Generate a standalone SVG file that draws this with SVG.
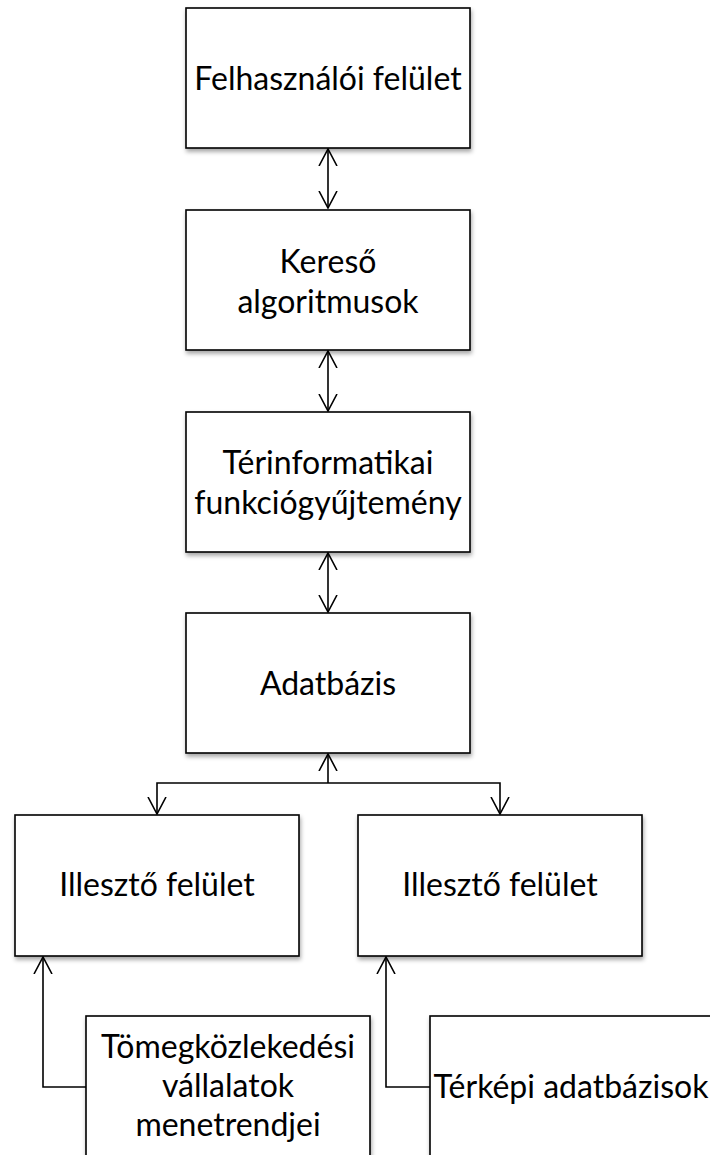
<svg xmlns="http://www.w3.org/2000/svg" width="710" height="1155" viewBox="0 0 710 1155">
<style>
.box{fill:#fff;stroke:#000;stroke-width:1.6;filter:url(#sh)}
.lbl{font-family:Lato,"Open Sans",sans-serif;font-size:32px;fill:#000;text-anchor:middle}
.con{fill:none;stroke:#000;stroke-width:1.6}
</style>
<defs>
<filter id="sh" x="-10%" y="-10%" width="120%" height="130%">
<feDropShadow dx="1" dy="3" stdDeviation="2" flood-color="#000" flood-opacity="0.35"/>
</filter>
<marker id="ah" viewBox="0 0 18 20" refX="17" refY="10" markerWidth="18" markerHeight="20" markerUnits="userSpaceOnUse" orient="auto-start-reverse">
<path d="M0,1 L17,10 L0,19" fill="none" stroke="#000" stroke-width="1.6"/>
</marker>
</defs>
<g id="connectors">
<line class="con" x1="328" y1="149" x2="328" y2="208" marker-start="url(#ah)" marker-end="url(#ah)"/>
<line class="con" x1="328" y1="351" x2="328" y2="411" marker-start="url(#ah)" marker-end="url(#ah)"/>
<line class="con" x1="328" y1="553" x2="328" y2="612" marker-start="url(#ah)" marker-end="url(#ah)"/>
<line class="con" x1="328" y1="783" x2="328" y2="754" marker-end="url(#ah)"/>
<polyline class="con" points="157,814 157,783 500,783 500,814" marker-start="url(#ah)" marker-end="url(#ah)"/>
<polyline class="con" points="86,1087 43,1087 43,957" marker-end="url(#ah)"/>
<polyline class="con" points="430,1087 386,1087 386,957" marker-end="url(#ah)"/>
</g>
<g id="n1"><rect class="box" x="186" y="8" width="284" height="140"/><text class="lbl" x="328" y="90">Felhasználói felület</text></g>
<g id="n2"><rect class="box" x="186" y="210" width="284" height="140"/><text class="lbl" x="328" y="273">Kereső</text><text class="lbl" x="328" y="313">algoritmusok</text></g>
<g id="n3"><rect class="box" x="186" y="412" width="284" height="140"/><text class="lbl" x="328" y="474">Térinformatikai</text><text class="lbl" x="328" y="514">funkciógyűjtemény</text></g>
<g id="n4"><rect class="box" x="186" y="613" width="284" height="140"/><text class="lbl" x="328" y="695">Adatbázis</text></g>
<g id="n5"><rect class="box" x="15" y="815" width="284" height="141"/><text class="lbl" x="157" y="896">Illesztő felület</text></g>
<g id="n6"><rect class="box" x="358" y="815" width="284" height="141"/><text class="lbl" x="500" y="896">Illesztő felület</text></g>
<g id="n7"><rect class="box" x="86" y="1016" width="284" height="160"/><text class="lbl" x="228" y="1058">Tömegközlekedési</text><text class="lbl" x="228" y="1097">vállalatok</text><text class="lbl" x="228" y="1136">menetrendjei</text></g>
<g id="n8"><rect class="box" x="430" y="1016" width="284" height="160"/><text class="lbl" x="571" y="1098">Térképi adatbázisok</text></g>
</svg>
